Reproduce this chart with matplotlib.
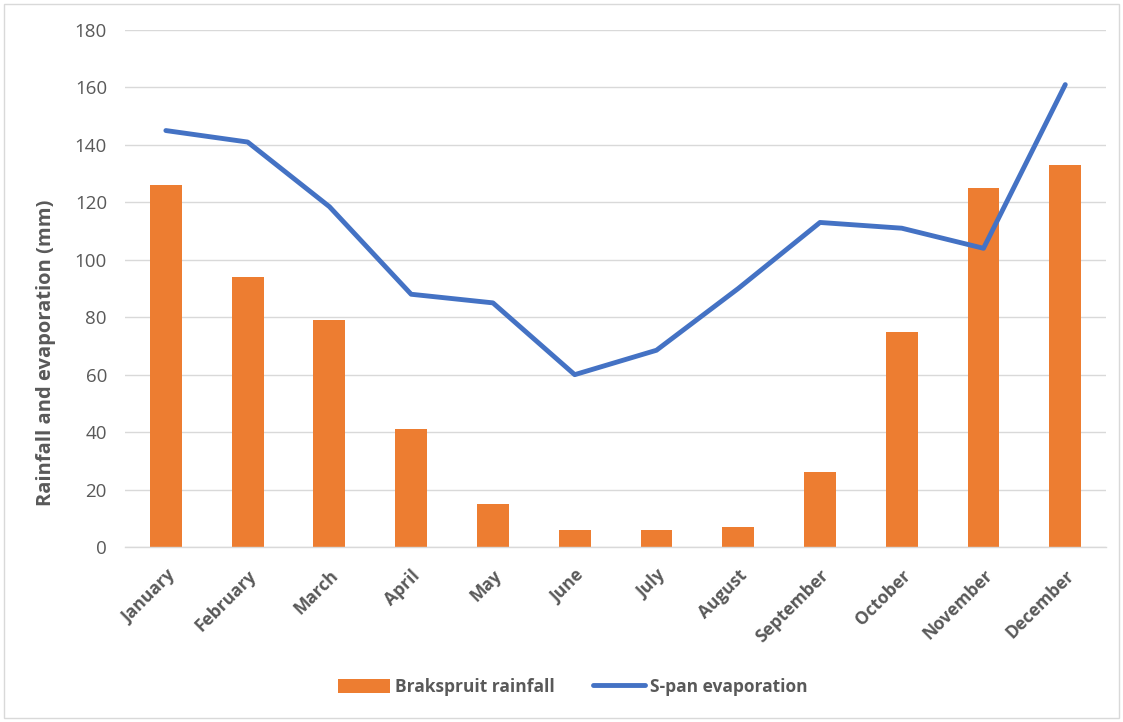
import matplotlib
matplotlib.use("Agg")
import matplotlib.pyplot as plt
from matplotlib.patches import Rectangle

plt.rcParams['font.family'] = ['Open Sans', 'DejaVu Sans']

# Monthly data (mm)
months = ['January', 'February', 'March', 'April', 'May', 'June', 'July',
          'August', 'September', 'October', 'November', 'December']
rainfall = [126, 94, 79, 41, 15, 6, 6, 7, 26, 75, 125, 133]
evaporation = [145, 141, 118.5, 88, 85, 60, 68.5, 90, 113, 111, 104, 161]
y_ticks = [0, 20, 40, 60, 80, 100, 120, 140, 160, 180]

grey = '#595959'

fig = plt.figure(figsize=(11.23, 7.22), dpi=100)
ax = fig.add_axes([0.1113, 0.2424, 0.8737, 0.716])

x = list(range(len(months)))
bars = ax.bar(x, rainfall, width=0.39, color='#ED7D31', label='Brakspruit rainfall', zorder=2)
line, = ax.plot(x, evaporation, color='#4472C4', linewidth=3.5, label='S-pan evaporation',
                solid_joinstyle='round', solid_capstyle='round', zorder=3)

ax.set_xlim(-0.5, 11.5)
ax.set_ylim(0, 180)
ax.set_yticks(y_ticks)
ax.set_yticklabels([str(v) for v in y_ticks], fontsize=13.5, color=grey)
ax.set_xticks(x)
ax.set_xticklabels(months, rotation=45, ha='right', rotation_mode='anchor',
                   fontsize=12.5, fontweight='bold', color=grey)
ax.tick_params(axis='both', length=0)
ax.tick_params(axis='y', pad=13)
ax.tick_params(axis='x', pad=14)

ax.grid(axis='y', color='#D9D9D9', linewidth=1, zorder=0)
for side in ['top', 'right', 'left']:
    ax.spines[side].set_visible(False)
ax.spines['bottom'].set_color('#D9D9D9')
ax.spines['bottom'].set_linewidth(1)

ax.set_ylabel('Rainfall and evaporation (mm)', fontsize=14.5, fontweight='bold', color=grey)
ax.yaxis.set_label_coords(-0.07, 0.375)

leg = fig.legend([bars, line], ['Brakspruit rainfall', 'S-pan evaporation'],
                 loc='center', bbox_to_anchor=(0.51, 0.0485), ncol=2, frameon=False,
                 fontsize=12.5, handlelength=3.0, handleheight=0.9, columnspacing=2.2,
                 handletextpad=0.3)
for t in leg.get_texts():
    t.set_color(grey)
    t.set_fontweight('bold')

# outer chart border
fig.patches.append(Rectangle((0.004, 0.005), 0.992, 0.99, transform=fig.transFigure,
                             fill=False, edgecolor='#D9D9D9', linewidth=1))

fig.savefig('out.png', dpi=100)
